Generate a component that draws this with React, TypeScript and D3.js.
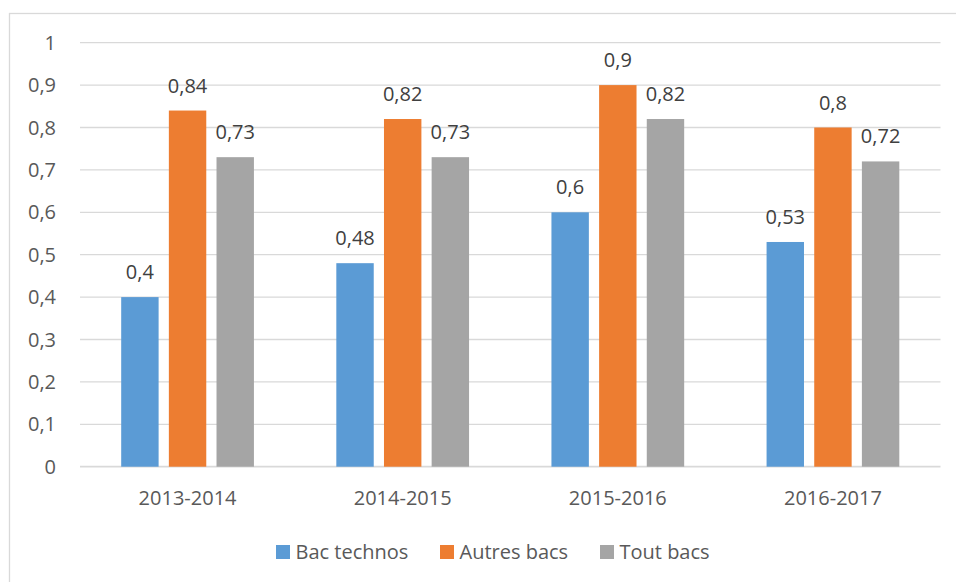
import React from "react";
import * as d3 from "d3";

const categories = ["2013-2014", "2014-2015", "2015-2016", "2016-2017"];
const seriesNames = ["Bac technos", "Autres bacs", "Tout bacs"];
const bacTechnos = [0.4, 0.48, 0.6, 0.53];
const autresBacs = [0.84, 0.82, 0.9, 0.8];
const toutBacs = [0.73, 0.73, 0.82, 0.72];
const yTicks = [0, 0.1, 0.2, 0.3, 0.4, 0.5, 0.6, 0.7, 0.8, 0.9, 1];
const colors = ["#5B9BD5", "#ED7D31", "#A5A5A5"];

const W = 956;
const H = 582;
const fmt = (v: number) => String(+v.toFixed(2)).replace(".", ",");

export default function App() {
  const series = [bacTechnos, autresBacs, toutBacs];
  const x0 = d3
    .scaleBand<string>()
    .domain(categories)
    .range([80, 940.5])
    .paddingInner(0.383)
    .paddingOuter(0.1915);
  const x1 = d3
    .scaleBand<number>()
    .domain([0, 1, 2])
    .range([0, x0.bandwidth()])
    .paddingInner(0.215)
    .paddingOuter(0);
  const y = d3.scaleLinear().domain([0, 1]).range([466.7, 42.7]);
  const font = "'Open Sans', sans-serif";
  const fs = 20;
  const legendX = [276, 440, 600];

  return (
    <svg
      width={W}
      height={H}
      style={{ position: "absolute", left: 0, top: 0, background: "#fff" }}
    >
      <rect x={9.5} y={13.5} width={960} height={600} fill="#fff" stroke="#d9d9d9" strokeWidth={1.3} />
      {yTicks.map((t) => (
        <g key={t}>
          <line
            x1={80}
            x2={940.5}
            y1={y(t)}
            y2={y(t)}
            stroke="#d9d9d9"
            strokeWidth={t === 0 ? 1.8 : 1.3}
          />
          <text
            x={56}
            y={y(t)}
            dy="0.35em"
            textAnchor="end"
            fontFamily={font}
            fontSize={fs}
            fill="#595959"
          >
            {fmt(t)}
          </text>
        </g>
      ))}
      {categories.map((c, i) => (
        <g key={c} transform={`translate(${x0(c)},0)`}>
          {series.map((s, j) => (
            <g key={j}>
              <rect
                x={x1(j)}
                y={y(s[i])}
                width={x1.bandwidth()}
                height={y(0) - y(s[i])}
                fill={colors[j]}
              />
              <text
                x={(x1(j) as number) + x1.bandwidth() / 2}
                y={y(s[i]) - 18}
                textAnchor="middle"
                fontFamily={font}
                fontSize={fs}
                fill="#404040"
              >
                {fmt(s[i])}
              </text>
            </g>
          ))}
          <text
            x={x0.bandwidth() / 2}
            y={505}
            textAnchor="middle"
            fontFamily={font}
            fontSize={fs}
            fill="#595959"
          >
            {c}
          </text>
        </g>
      ))}
      {seriesNames.map((n, j) => (
        <g key={n}>
          <rect x={legendX[j]} y={545} width={14} height={14} fill={colors[j]} />
          <text
            x={legendX[j] + 19.5}
            y={558.5}
            fontFamily={font}
            fontSize={fs}
            fill="#595959"
          >
            {n}
          </text>
        </g>
      ))}
    </svg>
  );
}
